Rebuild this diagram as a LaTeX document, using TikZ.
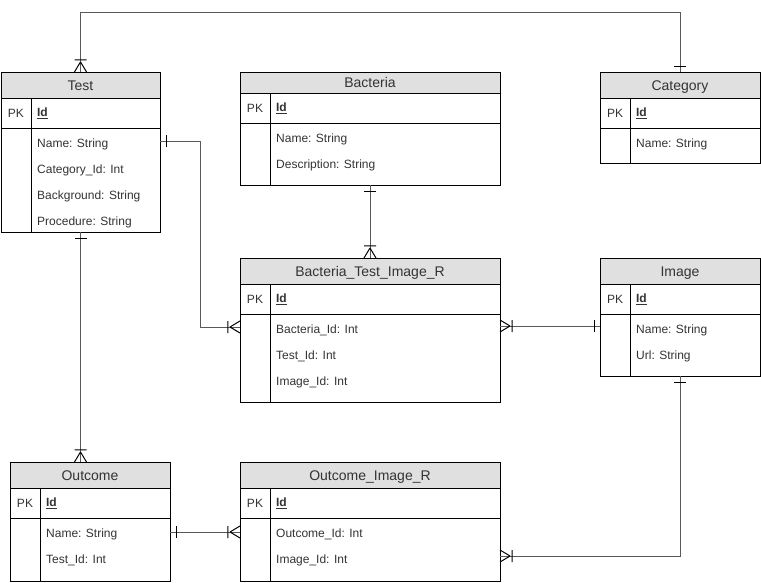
\documentclass[tikz,border=0pt]{standalone}
\usepackage{fontspec}
\setmainfont{Liberation Sans}
\usepackage{xcolor}
\usetikzlibrary{positioning}
\usetikzlibrary{decorations.markings}
\definecolor{hdrgray}{HTML}{E0E0E0}
\definecolor{linegray}{HTML}{595959}
\definecolor{textgray}{HTML}{333333}

\begin{document}
\begin{tikzpicture}[x=1pt, y=-1pt,
    hdr/.style={draw, fill=hdrgray, anchor=north west, outer sep=0pt, inner sep=0pt, text height=10pt, text depth=0pt, text=textgray, font=\fontsize{14}{16}\selectfont},
    cell/.style={draw, anchor=north west, outer sep=0pt, inner sep=0pt, text=textgray, font=\fontsize{12}{14}\selectfont},
    keycell/.style={text width=#1, inner xsep=6pt, align=left},
    field/.style={anchor=base west, inner sep=0pt, text=textgray, font=\fontsize{12}{14}\selectfont},
    rel/.style={draw=linegray, line width=1pt, postaction={decorate, decoration={markings,
        mark=at position 0 with {\draw[black, line width=1pt] (6,-6) -- (6,6);},
        mark=at position 0.9999 with {\draw[black, line width=1pt] (-10,0) -- (0,6) (-10,0) -- (0,-6) (-12,-6) -- (-12,6);}}}}]
    \useasboundingbox (0,0) rectangle (761,582);

    % Test
    \node[hdr, minimum width=159, minimum height=26] (test) at (1,72) {Test};
    \node[cell, minimum width=30, minimum height=30] (testpkl) at (test.south west) {PK};
    \node[cell, keycell=117, minimum height=30, right=0pt of testpkl] (testpk) {\underline{\textbf{Id}}};
    \node[cell, minimum width=30, minimum height=104, below=0pt of testpkl] (testattrl) {};
    \node[cell, minimum width=129, minimum height=104, right=0pt of testattrl] (testattr) {};
    \node[field] (testf1) at ([shift={(6,19)}]testattr.north west) {Name: String};
    \node[field] (testf2) at ([shift={(0,26)}]testf1.base west) {Category\_Id: Int};
    \node[field] (testf3) at ([shift={(0,26)}]testf2.base west) {Background: String};
    \node[field] (testf4) at ([shift={(0,26)}]testf3.base west) {Procedure: String};

    % Bacteria
    \node[hdr, minimum width=260, minimum height=21] (bacteria) at (240,72) {Bacteria};
    \node[cell, minimum width=30, minimum height=30] (bacteriapkl) at (bacteria.south west) {PK};
    \node[cell, keycell=218, minimum height=30, right=0pt of bacteriapkl] (bacteriapk) {\underline{\textbf{Id}}};
    \node[cell, minimum width=30, minimum height=62, below=0pt of bacteriapkl] (bacteriaattrl) {};
    \node[cell, minimum width=230, minimum height=62, right=0pt of bacteriaattrl] (bacteriaattr) {};
    \node[field] (bacteriaf1) at ([shift={(6,19)}]bacteriaattr.north west) {Name: String};
    \node[field] (bacteriaf2) at ([shift={(0,26)}]bacteriaf1.base west) {Description: String};

    % Category
    \node[hdr, minimum width=160, minimum height=26] (category) at (600,72) {Category};
    \node[cell, minimum width=30, minimum height=30] (categorypkl) at (category.south west) {PK};
    \node[cell, keycell=118, minimum height=30, right=0pt of categorypkl] (categorypk) {\underline{\textbf{Id}}};
    \node[cell, minimum width=30, minimum height=35, below=0pt of categorypkl] (categoryattrl) {};
    \node[cell, minimum width=130, minimum height=35, right=0pt of categoryattrl] (categoryattr) {};
    \node[field] (categoryf1) at ([shift={(6,19)}]categoryattr.north west) {Name: String};

    % Bacteria_Test_Image_R
    \node[hdr, minimum width=260, minimum height=26] (btir) at (240,258) {Bacteria\_Test\_Image\_R};
    \node[cell, minimum width=30, minimum height=30] (btirpkl) at (btir.south west) {PK};
    \node[cell, keycell=218, minimum height=30, right=0pt of btirpkl] (btirpk) {\underline{\textbf{Id}}};
    \node[cell, minimum width=30, minimum height=88, below=0pt of btirpkl] (btirattrl) {};
    \node[cell, minimum width=230, minimum height=88, right=0pt of btirattrl] (btirattr) {};
    \node[field] (btirf1) at ([shift={(6,19)}]btirattr.north west) {Bacteria\_Id: Int};
    \node[field] (btirf2) at ([shift={(0,26)}]btirf1.base west) {Test\_Id: Int};
    \node[field] (btirf3) at ([shift={(0,26)}]btirf2.base west) {Image\_Id: Int};

    % Image
    \node[hdr, minimum width=160, minimum height=26] (image) at (600,258) {Image};
    \node[cell, minimum width=30, minimum height=30] (imagepkl) at (image.south west) {PK};
    \node[cell, keycell=118, minimum height=30, right=0pt of imagepkl] (imagepk) {\underline{\textbf{Id}}};
    \node[cell, minimum width=30, minimum height=62, below=0pt of imagepkl] (imageattrl) {};
    \node[cell, minimum width=130, minimum height=62, right=0pt of imageattrl] (imageattr) {};
    \node[field] (imagef1) at ([shift={(6,19)}]imageattr.north west) {Name: String};
    \node[field] (imagef2) at ([shift={(0,26)}]imagef1.base west) {Url: String};

    % Outcome
    \node[hdr, minimum width=160, minimum height=26] (outcome) at (10,462) {Outcome};
    \node[cell, minimum width=30, minimum height=30] (outcomepkl) at (outcome.south west) {PK};
    \node[cell, keycell=118, minimum height=30, right=0pt of outcomepkl] (outcomepk) {\underline{\textbf{Id}}};
    \node[cell, minimum width=30, minimum height=63, below=0pt of outcomepkl] (outcomeattrl) {};
    \node[cell, minimum width=130, minimum height=63, right=0pt of outcomeattrl] (outcomeattr) {};
    \node[field] (outcomef1) at ([shift={(6,19)}]outcomeattr.north west) {Name: String};
    \node[field] (outcomef2) at ([shift={(0,26)}]outcomef1.base west) {Test\_Id: Int};

    % Outcome_Image_R
    \node[hdr, minimum width=260, minimum height=26] (oir) at (240,462) {Outcome\_Image\_R};
    \node[cell, minimum width=30, minimum height=30] (oirpkl) at (oir.south west) {PK};
    \node[cell, keycell=218, minimum height=30, right=0pt of oirpkl] (oirpk) {\underline{\textbf{Id}}};
    \node[cell, minimum width=30, minimum height=63, below=0pt of oirpkl] (oirattrl) {};
    \node[cell, minimum width=230, minimum height=63, right=0pt of oirattrl] (oirattr) {};
    \node[field] (oirf1) at ([shift={(6,19)}]oirattr.north west) {Outcome\_Id: Int};
    \node[field] (oirf2) at ([shift={(0,26)}]oirf1.base west) {Image\_Id: Int};

    % relations: one end first, many end last
    \draw[rel] (category.north) -- ++(0,-60) -| (test.north);
    \draw[rel] ([shift={(0,13)}]testattr.north east) -- ++(40,0) |- ([shift={(0,13)}]btirattrl.north west);
    \draw[rel] (bacteria |- bacteriaattr.south) -- (btir.north);
    \draw[rel] ([shift={(0,12)}]imageattrl.north west) -- ([shift={(0,12)}]btirattr.north east);
    \draw[rel] (test |- testattr.south) -- (test |- outcome.north);
    \draw[rel] ([shift={(0,14)}]outcomeattr.north east) -- ([shift={(0,14)}]oirattrl.north west);
    \draw[rel] (image |- imageattr.south) |- ([shift={(0,38)}]oirattr.north east);
\end{tikzpicture}
\end{document}
